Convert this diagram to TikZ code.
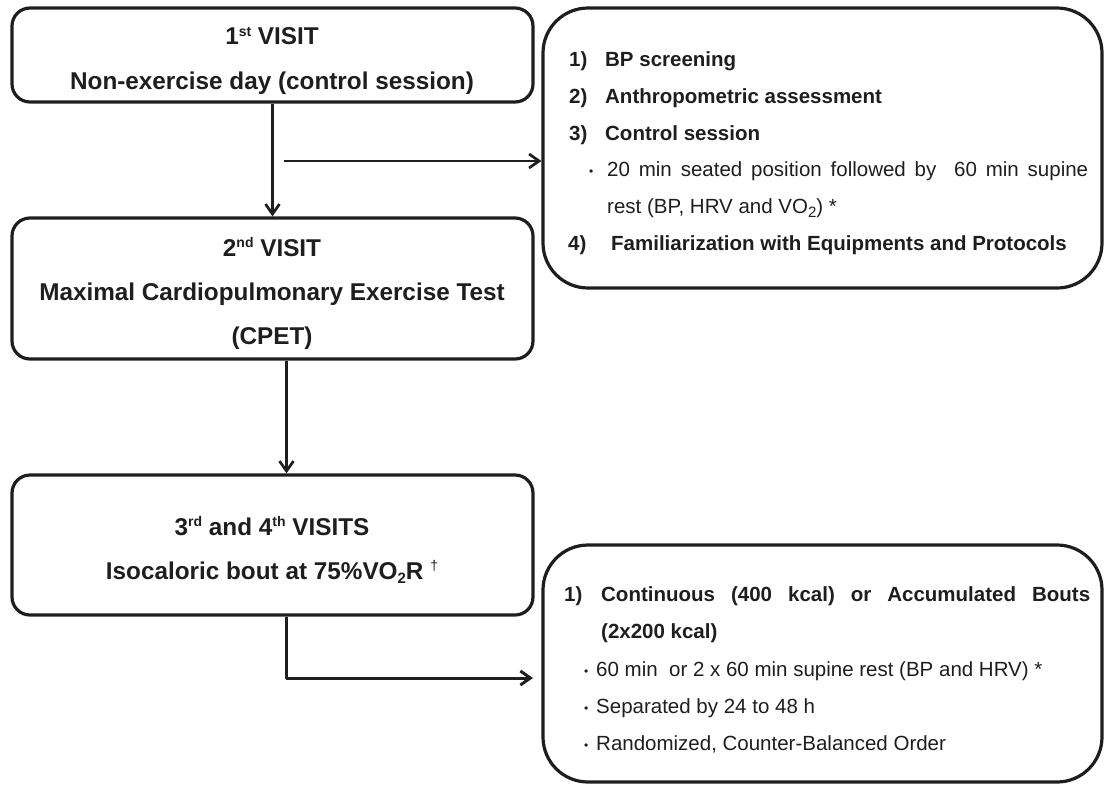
\documentclass[tikz,border=0pt]{standalone}
\usepackage{fontspec}
\setmainfont{Liberation Sans}
\usetikzlibrary{arrows.meta}

\definecolor{flowink}{HTML}{1E1E1E}

\newcommand{\headfont}{\fontsize{24.3}{28}\selectfont\bfseries}
\newcommand{\listfont}{\fontsize{20.5}{24}\selectfont}
\newcommand{\dotmark}{\raisebox{1pt}{\fontsize{12}{12}\selectfont\textbullet}}
\newcommand{\supr}[1]{\raisebox{8.5pt}{\fontsize{14}{14}\selectfont #1}}
\newcommand{\subr}[1]{\raisebox{-4pt}{\fontsize{15}{15}\selectfont #1}}

\begin{document}
\begin{tikzpicture}[
  x=1pt,
  y=-1pt,
  line join=round,
  visitbox/.style={draw=flowink,line width=3.2pt,rounded corners=18pt,minimum width=521pt,inner sep=0pt},
  infobox/.style={draw=flowink,line width=3.2pt,rounded corners=45pt,minimum width=559pt,inner sep=0pt},
  headline/.style={anchor=base,font=\headfont,text=flowink,inner sep=0pt},
  listline/.style={anchor=base west,font=\listfont,text=flowink,inner sep=0pt},
  flow/.style={draw=flowink,line width=2.7pt,-{Straight Barb[length=10pt,width=14pt]}}
]
  % Match the artwork frame.
  \useasboundingbox (0,0) rectangle (1106,785);

  % Visit boxes on the left, protocol boxes on the right.
  \node[visitbox,minimum height=94pt] (visit1) at (272.5,55) {};
  \node[visitbox,minimum height=141pt] (visit2) at (272.5,288.5) {};
  \node[visitbox,minimum height=140pt] (visit3) at (272.5,545) {};
  \node[infobox,minimum height=280pt] (info1) at (822.5,148) {};
  \node[infobox,minimum height=237pt] (info2) at (822.5,663.5) {};

  % Helper points for the branch and the lower drop line.
  \coordinate (branch) at (284,161);
  \coordinate (drop) at (286.5,420);
  \coordinate (elbowend) at (533,678);

  % Visit titles, placed on their baselines.
  \node[headline] (title1a) at (272,44.5) {1\supr{st} VISIT};
  \node[headline] (title1b) at (272,89.5) {Non-exercise day (control session)};
  \node[headline] (title2a) at (272,256) {2\supr{nd} VISIT};
  \node[headline] (title2b) at (272,300) {Maximal Cardiopulmonary Exercise Test};
  \node[headline] (title2c) at (272,344) {(CPET)};
  \node[headline] (title3a) at (272,535) {3\supr{rd} and 4\supr{th} VISITS};
  \node[headline] (title3b) at (272,579) {Isocaloric bout at 75\%VO\subr{2}R \supr{\mdseries †}};

  % First visit protocol list.
  \node[listline] (item1) at (569,66.5) {\bfseries\makebox[36pt][l]{1)}BP screening};
  \node[listline] (item2) at (569,103.5) {\bfseries\makebox[36pt][l]{2)}Anthropometric assessment};
  \node[listline] (item3) at (569,140) {\bfseries\makebox[36pt][l]{3)}Control session};
  \node[listline] (item3a) at (589,176.5) {\makebox[18pt][l]{\dotmark}\makebox[481pt][s]{20 min seated position followed by\ \ 60 min supine}};
  \node[listline] (item3b) at (607,213.5) {rest (BP, HRV and VO\subr{2}) *};
  \node[listline] (item4) at (568,250.5) {\bfseries\makebox[43pt][l]{4)}Familiarization with Equipments and Protocols};

  % Exercise visits protocol list.
  \node[listline] (bout1) at (564,601.5) {\bfseries\makebox[37pt][l]{1)}\makebox[489pt][s]{Continuous (400 kcal) or Accumulated Bouts}};
  \node[listline] (bout1b) at (601,638.5) {\bfseries(2x200 kcal)};
  \node[listline] (bout2) at (584,676) {\makebox[12pt][l]{\dotmark}60 min\ \ or 2 x 60 min supine rest (BP and HRV) *};
  \node[listline] (bout3) at (584,713) {\makebox[12pt][l]{\dotmark}Separated by 24 to 48 h};
  \node[listline] (bout4) at (584,750) {\makebox[12pt][l]{\dotmark}Randomized, Counter-Balanced Order};

  % Connectors.
  \draw[flow] (visit1.south) -- (visit2.north);
  \draw[flow] (branch) -- (branch -| info1.west);
  \draw[flow] (visit2.south -| drop) -- (visit3.north -| drop);
  \draw[flow,line width=3pt] (visit3.south -| drop) |- (elbowend);
\end{tikzpicture}
\end{document}
